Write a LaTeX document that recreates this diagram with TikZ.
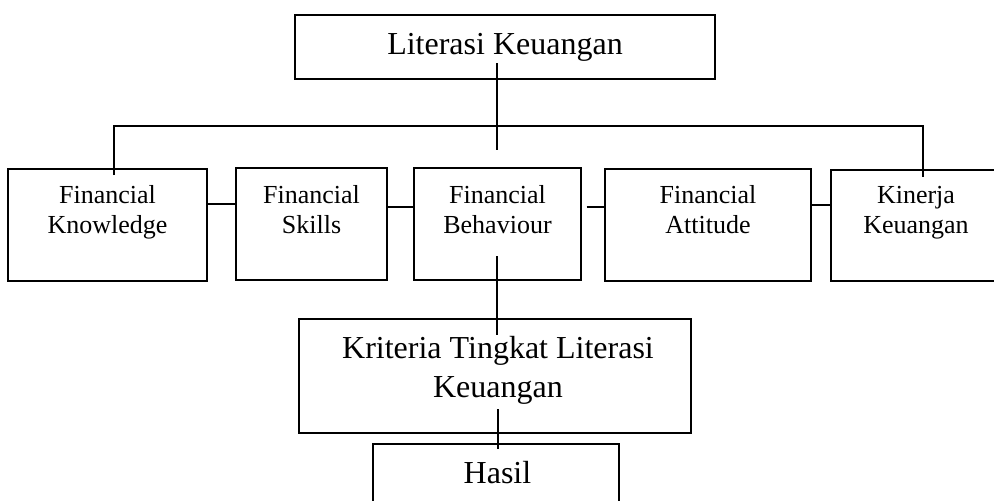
\documentclass[tikz,border=0pt]{standalone}
\usepackage{fontspec}
\setmainfont{Liberation Serif}
\begin{document}
\begin{tikzpicture}[x=1pt,y=-1pt,
  boxnode/.style={draw,line width=1.3pt,inner sep=0pt},
  rowtext/.style={font=\fontsize{26}{30}\selectfont,align=center,anchor=base,inner sep=0pt},
  bigtext/.style={font=\fontsize{32}{39}\selectfont,align=center,anchor=base,inner sep=0pt},
  conn/.style={line width=1.3pt}]
\useasboundingbox (0,0) rectangle (994,501);
\clip (0,0) rectangle (994,501);
% boxes
\node[boxnode,minimum width=420pt,minimum height=64pt] (lk) at (505,47) {};
\node[boxnode,minimum width=199pt,minimum height=112pt] (fk) at (107.5,225) {};
\node[boxnode,minimum width=151pt,minimum height=112pt] (fs) at (311.5,224) {};
\node[boxnode,minimum width=167pt,minimum height=112pt] (fb) at (497.5,224) {};
\node[boxnode,minimum width=206pt,minimum height=112pt] (fa) at (708,225) {};
\node[boxnode,minimum width=170pt,minimum height=111pt] (kk) at (916,225.5) {};
\node[boxnode,minimum width=392pt,minimum height=114pt] (kt) at (495,376) {};
\node[boxnode,minimum width=246pt,minimum height=80pt] (ha) at (496,484) {};
% texts
\node[bigtext] (lkT) at (505,54) {Literasi Keuangan};
\node[rowtext] (fkT) at (107.5,233) {Financial\\Knowledge};
\node[rowtext] (fsT) at (311.5,233) {Financial\\Skills};
\node[rowtext] (fbT) at (497.5,233) {Financial\\Behaviour};
\node[rowtext] (faT) at (708,233) {Financial\\Attitude};
\node[rowtext] (kkT) at (916,233) {Kinerja\\Keuangan};
\node[bigtext] (ktT) at (498,397) {Kriteria Tingkat Literasi\\Keuangan};
\node[bigtext] (haT) at (497.5,483) {Hasil};
% connector points
\coordinate (t1) at (497,63);
\coordinate (t2) at (497,150);
\coordinate (bl) at (114,175);
\coordinate (bl2) at (114,126);
\coordinate (br2) at (923,126);
\coordinate (br) at (923,177);
\coordinate (b1) at (497,256);
\coordinate (b2) at (497,335);
\coordinate (h1) at (498,409);
\coordinate (h2) at (498,449);
% connectors
\draw[conn] (t1) -- (t2);
\draw[conn] (bl) -- (bl2) -- (br2) -- (br);
\draw[conn] ([yshift=21pt]fk.east) -- ([yshift=20pt]fs.west);
\draw[conn] ([yshift=17pt]fs.east) -- ([yshift=17pt]fb.west);
\draw[conn] ([xshift=5pt,yshift=17pt]fb.east) -- ([yshift=18pt]fa.west);
\draw[conn] ([yshift=20pt]fa.east) -- ([yshift=20.5pt]kk.west);
\draw[conn] (b1) -- (b2);
\draw[conn] (h1) -- (h2);
\end{tikzpicture}
\end{document}
